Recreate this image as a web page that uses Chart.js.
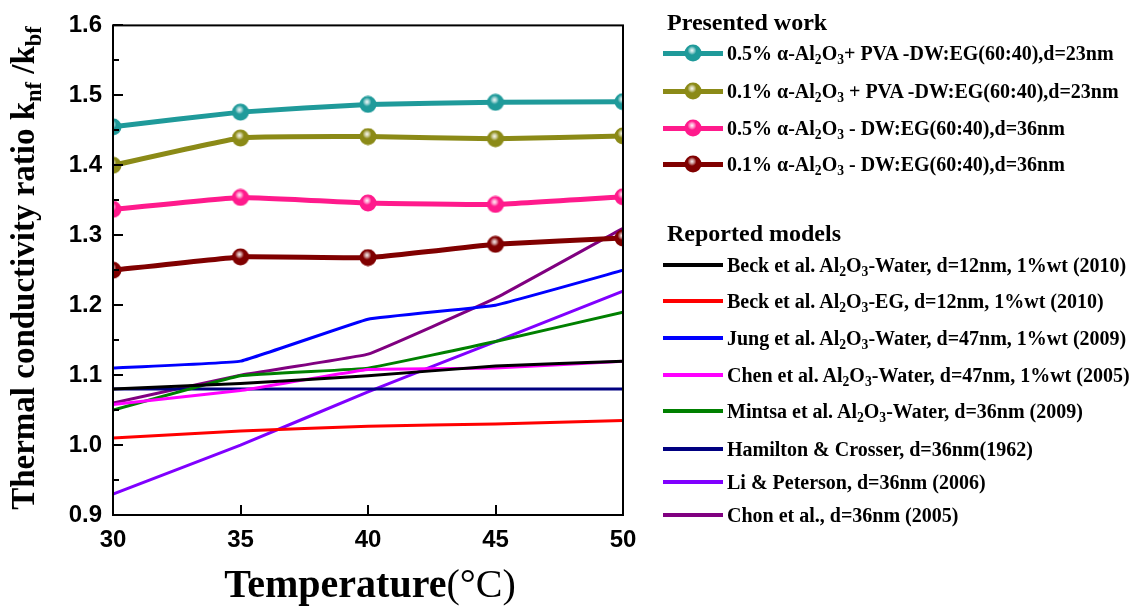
<!DOCTYPE html>
<html>
<head>
<meta charset="utf-8">
<script src="https://cdn.jsdelivr.net/npm/chart.js@4.4.1/dist/chart.umd.min.js"></script>
<style>
  html, body { margin: 0; padding: 0; background: #fff; }
  #wrap { position: relative; width: 1143px; height: 606px; background: #fff; overflow: hidden; }
  #c { position: absolute; left: 0; top: 0; width: 1143px; height: 606px; }
  .serif { font-family: "Liberation Serif", "Times New Roman", serif; font-weight: bold; color: #000; white-space: nowrap; }
  sub { font-size: 0.68em; vertical-align: -0.32em; line-height: 0; }
  #ytitle { position: absolute; width: 600px; height: 40px; line-height: 40px; left: -277px; top: 248px;
            font-size: 33px; text-align: center; transform: rotate(-90deg); }
  #xtitle { position: absolute; width: 600px; left: 70px; top: 561px; height: 46px; line-height: 46px;
            font-size: 40px; text-align: center; }
  #xtitle .unit { font-weight: normal; }
  .head { position: absolute; left: 667px; font-size: 24px; line-height: 28px; }
  .row { position: absolute; left: 663px; height: 24px; display: flex; align-items: center; }
  .row .txt { font-size: 20px; line-height: 24px; margin-left: 4px; }
  .sw { position: relative; width: 60px; height: 24px; }
  .sw .ln { position: absolute; left: 0; width: 60px; }
  .sw img { position: absolute; left: 21px; top: 3px; }
</style>
</head>
<body>
<div id="wrap">
  <canvas id="c" width="1143" height="606"></canvas>
  <div id="ytitle" class="serif">Thermal conductivity ratio k<sub>nf</sub> /k<sub>bf</sub></div>
  <div id="xtitle" class="serif">Temperature<span class="unit">(°C)</span></div>
  <div id="legend"></div>
</div>
<script>
// Temperature (°C) on the x axis
const temps = [30, 35, 40, 45, 50];

// Measured ratio k_nf / k_bf for the prepared nanofluids
const al05Pva = [1.455, 1.476, 1.487, 1.490, 1.491];
const al01Pva = [1.400, 1.439, 1.441, 1.438, 1.442];
const al05 = [1.337, 1.354, 1.346, 1.344, 1.355];
const al01 = [1.250, 1.269, 1.268, 1.287, 1.296];

// Literature correlations
const beckWater = [1.080, 1.088, 1.099, 1.113, 1.120];
const beckEG = [1.010, 1.020, 1.027, 1.030, 1.035];
const jungWater = [1.110, 1.120, 1.180, 1.200, 1.250];
const chenWater = [1.058, 1.078, 1.108, 1.110, 1.120];
const mintsaWater = [1.050, 1.099, 1.110, 1.148, 1.190];
const hamiltonCrosser = [1.080, 1.080, 1.080, 1.080, 1.080];
const liPeterson = [0.930, 1.000, 1.076, 1.148, 1.220];
const chonModel = [1.060, 1.100, 1.130, 1.210, 1.310];

// Axis tick labels
const xTickLabels = ['30', '35', '40', '45', '50'];
const yTickLabels = ['0.9', '1.0', '1.1', '1.2', '1.3', '1.4', '1.5', '1.6'];

// Legend names (_2 / _3 mark subscripts)
const presentedNames = [
  '0.5% α-Al_2O_3+ PVA -DW:EG(60:40),d=23nm',
  '0.1% α-Al_2O_3 + PVA -DW:EG(60:40),d=23nm',
  '0.5% α-Al_2O_3 - DW:EG(60:40),d=36nm',
  '0.1% α-Al_2O_3 - DW:EG(60:40),d=36nm'
];
const modelNames = [
  'Beck et al. Al_2O_3-Water, d=12nm, 1%wt (2010)',
  'Beck et al. Al_2O_3-EG, d=12nm, 1%wt (2010)',
  'Jung et al. Al_2O_3-Water, d=47nm, 1%wt (2009)',
  'Chen et al. Al_2O_3-Water, d=47nm, 1%wt (2005)',
  'Mintsa et al. Al_2O_3-Water, d=36nm (2009)',
  'Hamilton & Crosser, d=36nm(1962)',
  'Li & Peterson, d=36nm (2006)',
  'Chon et al., d=36nm (2005)'
];

const presentedSeries = [al05Pva, al01Pva, al05, al01];
const presentedColors = ['#1f9a9a', '#8b8a17', '#ff1a8c', '#800000'];
const modelSeries = [beckWater, beckEG, jungWater, chenWater, mintsaWater, hamiltonCrosser, liPeterson, chonModel];
const modelColors = ['#000000', '#ff0000', '#0000ff', '#ff00ff', '#008000', '#000080', '#8000ff', '#800080'];

// Glossy ball marker
function makeBall(color) {
  const c = document.createElement('canvas');
  c.width = 18; c.height = 18;
  const g = c.getContext('2d');
  g.beginPath(); g.arc(9, 9, 8.5, 0, Math.PI * 2); g.fillStyle = color; g.fill();
  const hl = g.createRadialGradient(8, 6.5, 0, 8, 6.5, 4.5);
  hl.addColorStop(0, 'rgba(255,255,255,0.95)');
  hl.addColorStop(0.5, 'rgba(255,255,255,0.55)');
  hl.addColorStop(1, 'rgba(255,255,255,0)');
  g.beginPath(); g.arc(9, 9, 8.5, 0, Math.PI * 2); g.fillStyle = hl; g.fill();
  return c;
}

const toPoints = vals => temps.map((t, i) => ({ x: t, y: vals[i] }));
const plain = s => s.replace(/_(\d)/g, '$1');
const rich = s => s.replace(/&/g, '&amp;').replace(/_(\d)/g, '<sub>$1</sub>');

const balls = presentedColors.map(makeBall);
const datasets = [];
presentedSeries.forEach((vals, i) => datasets.push({
  label: plain(presentedNames[i]),
  data: toPoints(vals),
  borderColor: presentedColors[i],
  backgroundColor: presentedColors[i],
  borderWidth: 5,
  tension: 0.1,
  clip: 0,
  pointStyle: balls[i]
}));
modelSeries.forEach((vals, i) => datasets.push({
  label: plain(modelNames[i]),
  data: toPoints(vals),
  borderColor: modelColors[i],
  backgroundColor: modelColors[i],
  borderWidth: 3,
  tension: 0.08,
  clip: 0,
  pointRadius: 0
}));

// Frame around the plot and inward-pointing ticks
const framePlugin = {
  id: 'frame',
  afterDatasetsDraw(chart) {
    const { ctx, chartArea: a, scales: { x, y } } = chart;
    ctx.save();
    ctx.strokeStyle = '#000';
    ctx.lineWidth = 2;
    ctx.beginPath();
    for (let k = 0; k <= 14; k++) {
      const v = 0.9 + k * 0.05;
      const py = Math.round(y.getPixelForValue(v));
      ctx.moveTo(a.left, py); ctx.lineTo(a.left + (k % 2 === 0 ? 10 : 6), py);
    }
    for (let t = 35; t <= 45; t += 5) {
      const px = Math.round(x.getPixelForValue(t));
      ctx.moveTo(px, a.bottom); ctx.lineTo(px, a.bottom - 10);
    }
    ctx.stroke();
    ctx.strokeRect(a.left, a.top, a.right - a.left, a.bottom - a.top);
    ctx.restore();
  }
};

const tickFont = { family: '"Liberation Sans", Arial, sans-serif', weight: 'bold', size: 24 };

new Chart(document.getElementById('c'), {
  type: 'line',
  data: { datasets },
  options: {
    responsive: false,
    animation: false,
    events: [],
    layout: { padding: { top: 22, right: 520, left: 0, bottom: 0 } },
    plugins: { legend: { display: false }, tooltip: { enabled: false } },
    scales: {
      x: {
        type: 'linear', min: 30, max: 50,
        grid: { display: false, drawTicks: false },
        border: { display: false },
        afterFit: s => { s.height = 91; },
        afterBuildTicks: s => { s.ticks = temps.map(v => ({ value: v })); },
        ticks: { color: '#000', font: tickFont, padding: 11, maxRotation: 0,
                 callback: (v) => xTickLabels[temps.indexOf(v)] }
      },
      y: {
        type: 'linear', min: 0.9, max: 1.6,
        grid: { display: false, drawTicks: false },
        border: { display: false },
        afterFit: s => { s.width = 113; },
        afterBuildTicks: s => { s.ticks = yTickLabels.map(t => ({ value: parseFloat(t) })); },
        ticks: { color: '#000', font: tickFont, padding: 11,
                 callback: (v, i) => yTickLabels[i] }
      }
    }
  },
  plugins: [framePlugin]
});

// Legend built from the same names and colours as the datasets
(function () {
  const lg = document.getElementById('legend');
  let html = '<div class="head serif" style="top:8px">Presented work</div>';
  const pRows = [53, 91, 128, 164];
  presentedNames.forEach((n, i) => {
    html += '<div class="row" style="top:' + (pRows[i] - 12) + 'px">' +
      '<div class="sw"><div class="ln" style="top:9.5px;height:5px;background:' + presentedColors[i] + '"></div>' +
      '<img src="' + balls[i].toDataURL() + '" width="18" height="18"></div>' +
      '<span class="txt serif">' + rich(n) + '</span></div>';
  });
  html += '<div class="head serif" style="top:219px">Reported models</div>';
  const mRows = [265, 301, 338, 375, 411, 449, 482, 515];
  modelNames.forEach((n, i) => {
    html += '<div class="row" style="top:' + (mRows[i] - 12) + 'px">' +
      '<div class="sw"><div class="ln" style="top:10px;height:4px;background:' + modelColors[i] + '"></div></div>' +
      '<span class="txt serif">' + rich(n) + '</span></div>';
  });
  lg.innerHTML = html;
})();
</script>
</body>
</html>
